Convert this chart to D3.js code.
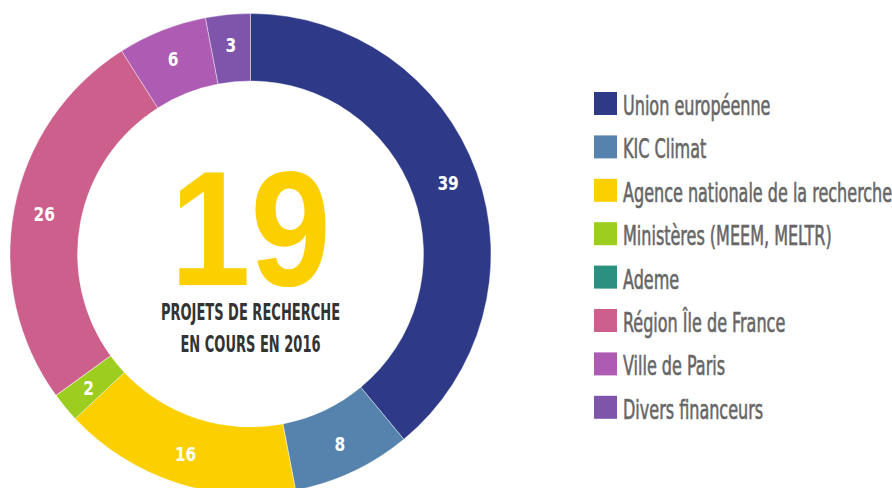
<!DOCTYPE html>
<html>
<head>
<meta charset="utf-8">
<script src="https://cdn.jsdelivr.net/npm/d3@7"></script>
<style>
  body { margin: 0; background: #fff; }
  svg { display: block; }
</style>
</head>
<body>
<svg width="892" height="488"></svg>
<script>
// financeurs, parts en %
const categories = ['Union européenne', 'KIC Climat', 'Agence nationale de la recherche',
    'Ministères (MEEM, MELTR)', 'Ademe', 'Région Île de France', 'Ville de Paris', 'Divers financeurs'];
const values = [39, 8, 16, 2, 0, 26, 6, 3];
const colors = ['#2e3a87', '#5683ad', '#fcd000', '#9dcd1e', '#2a9080', '#cc5f8b', '#ae5bb3', '#7f55ac'];
const totalProjects = '19';
const subtitle = ['PROJETS DE RECHERCHE', 'EN COURS EN 2016'];

const data = categories.map((c, i) => ({name: c, value: values[i], color: colors[i]}));

const svg = d3.select('svg');
const cx = 250.5, cy = 254, outerR = 240.5, innerR = 173;
const condensed = '"DejaVu Sans Condensed", "Liberation Sans Narrow", sans-serif';

const pie = d3.pie().sort(null).value(d => d.value);
const arc = d3.arc().innerRadius(innerR).outerRadius(outerR);
const labelArc = d3.arc().innerRadius(210).outerRadius(210);

let g = svg.append('g').attr('transform', `translate(${cx},${cy})`);

g.selectAll('path')
    .data(pie(data))
    .enter()
    .append('path')
        .attr('d', arc)
        .attr('fill', d => d.data.color)
        .attr('stroke', '#fff')
        .attr('stroke-width', 0.4);

g.selectAll('.lbl')
    .data(pie(data).filter(d => d.data.value > 0))
    .enter()
    .append('text')
        .classed('lbl', true)
        .attr('transform', d => `translate(${labelArc.centroid(d)}) scale(0.9,1)`)
        .attr('text-anchor', 'middle')
        .attr('dy', '0.36em')
        .style('font-family', condensed)
        .style('font-weight', 'bold')
        .style('font-size', '19px')
        .attr('fill', '#fff')
        .text(d => d.data.value);

// centre
g.append('text')
    .attr('y', 31)
    .attr('text-anchor', 'middle')
    .attr('transform', 'scale(0.88,1)')
    .style('font-family', '"Liberation Sans", Arial, sans-serif')
    .style('font-weight', 'bold')
    .style('font-size', '164px')
    .attr('fill', '#fcd000')
    .text(totalProjects);

subtitle.forEach((t, i) => {
    g.append('text')
        .attr('y', 66 + i * 32)
        .attr('text-anchor', 'middle')
        .attr('transform', 'scale(0.63,1)')
        .style('font-family', condensed)
        .style('font-weight', 'bold')
        .style('font-size', '23px')
        .attr('fill', '#333')
        .text(t);
});

// legende
let legend = svg.append('g').attr('transform', 'translate(594,92)');
let rows = legend.selectAll('g')
    .data(data)
    .enter()
    .append('g')
        .attr('transform', (d, i) => `translate(0,${i * 43.4})`);

rows.append('rect')
    .attr('width', 23)
    .attr('height', 23)
    .attr('fill', d => d.color);

rows.append('text')
    .attr('transform', 'translate(29,23) scale(0.66,1)')
    .style('font-family', condensed)
    .style('font-size', '27px')
    .attr('fill', '#666')
    .attr('stroke', '#666')
    .attr('stroke-width', 0.6)
    .text(d => d.name);
</script>
</body>
</html>
